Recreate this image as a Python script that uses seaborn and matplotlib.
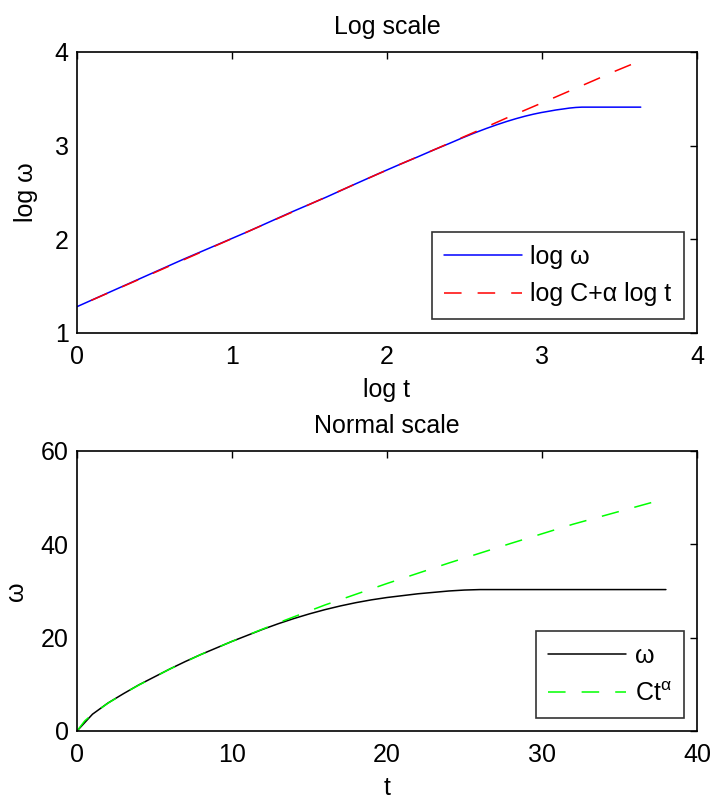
import numpy as np
import matplotlib
matplotlib.use("Agg")
import matplotlib.pyplot as plt
import seaborn as sns

# ── data ─────────────────────────────────────────────────────────────────────
t = [0, 1, 2, 3, 4, 5, 6, 7, 8, 9, 10, 11, 12, 13, 14, 15, 16, 17, 18, 19,
     20, 21, 22, 23, 24, 25, 26, 27, 28, 29, 30, 31, 32, 33, 34, 35, 36, 37, 38]
omega = [0.0, 3.6, 6.0, 8.0, 9.9, 11.6, 13.3, 14.9, 16.4, 17.8, 19.2, 20.5,
         21.8, 23.0, 24.1, 25.1, 26.0, 26.8, 27.5, 28.1, 28.6, 29.0, 29.4,
         29.7, 30.0, 30.2, 30.3, 30.3, 30.3, 30.3, 30.3, 30.3, 30.3, 30.3,
         30.3, 30.3, 30.3, 30.3, 30.3]

# power-law fit C*t^alpha, sampled where it was read
t_fit = [0, 0.5, 1, 2, 3, 4, 6, 8, 10, 13, 16, 20, 24, 28, 32, 38]
fit = [0.0, 2.17, 3.6, 5.96, 8.0, 9.86, 13.3, 16.4, 19.2, 23.2, 27.0, 31.6,
       36.0, 40.2, 44.3, 49.8]

# ── style ────────────────────────────────────────────────────────────────────
sns.set_style("white")
plt.rcParams["font.family"] = ["Liberation Sans", "DejaVu Sans"]
plt.rcParams["mathtext.fontset"] = "custom"
plt.rcParams["mathtext.rm"] = "Liberation Sans"
plt.rcParams["mathtext.it"] = "Liberation Sans:italic"
for key in ("text.color", "axes.labelcolor", "xtick.color", "ytick.color"):
    plt.rcParams[key] = "black"
FS = 18
DASH = (0, (11.5, 10.5))

fig = plt.figure(figsize=(7.15, 8.01), dpi=100)
ax1 = fig.add_axes([0.1077, 0.5843, 0.867, 0.3508])
ax2 = fig.add_axes([0.1077, 0.0874, 0.867, 0.3496])

# — Log scale —
log_t = np.log(t[1:])
log_w = np.log(omega[1:])
log_tf = np.log(t_fit[1:])
log_f = np.log(fit[1:])
sns.lineplot(x=log_t, y=log_w, ax=ax1, color="#0000ff", linewidth=1.1,
             label="log ω", sort=False, estimator=None)
sns.lineplot(x=log_tf, y=log_f, ax=ax1, color="#ff0000", linewidth=1.1,
             linestyle=DASH, label="log C+α log t", sort=False, estimator=None)
ax1.set_xlim(0, 4)
ax1.set_ylim(1, 4)
ax1.set_xticks([0, 1, 2, 3, 4])
ax1.set_yticks([1, 2, 3, 4])
ax1.set_title("Log scale", fontsize=FS, pad=13)
ax1.set_xlabel("log t", fontsize=FS, labelpad=6)
ax1.set_ylabel("log ω", fontsize=FS, labelpad=12)

# — Normal scale —
sns.lineplot(x=t, y=omega, ax=ax2, color="black", linewidth=1.1,
             label="ω", sort=False, estimator=None)
sns.lineplot(x=t_fit, y=fit, ax=ax2, color="#00ff00", linewidth=1.1,
             linestyle=DASH, label=r"Ct$^{\mathrm{α}}$", sort=False, estimator=None)
ax2.set_xlim(0, 40)
ax2.set_ylim(0, 60)
ax2.set_xticks([0, 10, 20, 30, 40])
ax2.set_yticks([0, 20, 40, 60])
ax2.set_title("Normal scale", fontsize=FS, pad=13)
ax2.set_xlabel("t", fontsize=FS, labelpad=6)
ax2.set_ylabel("ω", fontsize=FS, labelpad=9)

for ax, anchor in ((ax1, (0.979, 0.050)), (ax2, (0.979, 0.046))):
    ax.tick_params(direction="in", top=True, right=True, length=5, width=1,
                   labelsize=FS)
    ax.tick_params(axis="x", pad=9)
    ax.tick_params(axis="y", pad=6)
    for s in ax.spines.values():
        s.set_linewidth(1.2)
        s.set_color("black")
    leg = ax.legend(loc="lower right", bbox_to_anchor=anchor, borderaxespad=0,
                    fontsize=FS, frameon=True, fancybox=False,
                    handlelength=3.1, borderpad=0.5, labelspacing=0.55,
                    handletextpad=0.35)
    leg.get_frame().set_edgecolor("black")
    leg.get_frame().set_linewidth(1.2)

fig.savefig("out.png", dpi=100)
